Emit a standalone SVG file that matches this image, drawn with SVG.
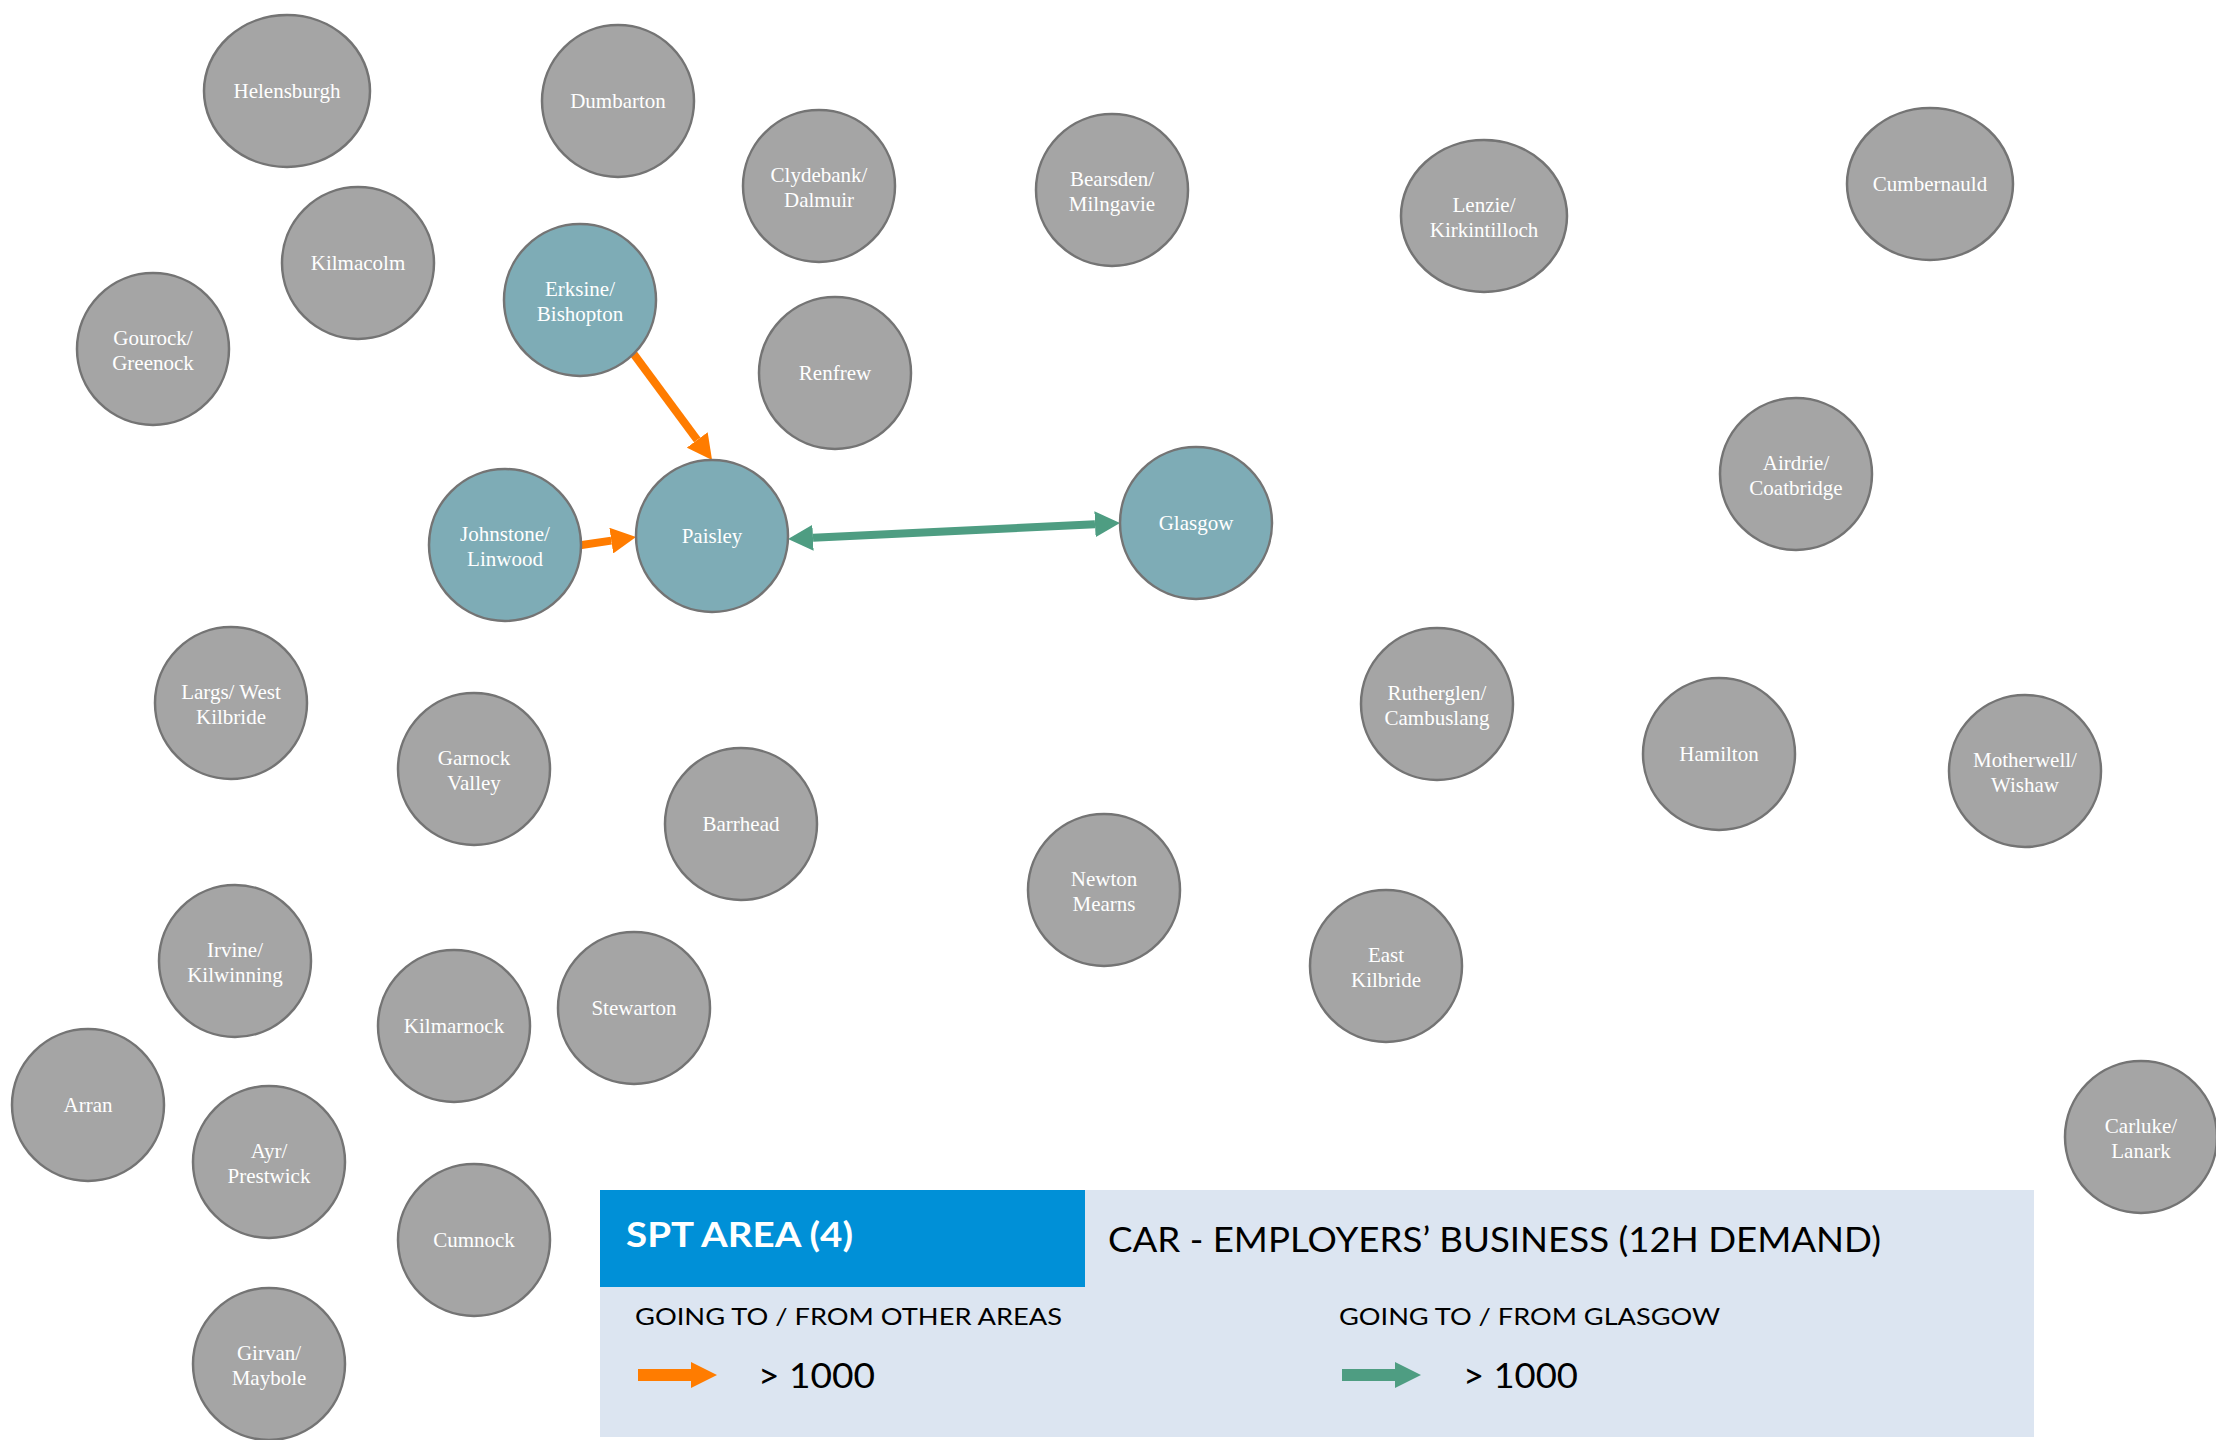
<svg xmlns="http://www.w3.org/2000/svg" width="2216" height="1440" viewBox="0 0 2216 1440">
<style>
.n ellipse{fill:#a5a5a5;stroke:#747474;stroke-width:2.5}
.t ellipse{fill:#7eacb6;stroke:#747474;stroke-width:2.5}
.n text,.t text{font-family:"Liberation Serif","Times New Roman",serif;font-size:21px;fill:#ffffff;text-anchor:middle}
.or{stroke:#ff7c00;stroke-width:8;fill:none}
.gr{stroke:#4e9d82;stroke-width:8;fill:none}
.lg{font-family:Lato,"Open Sans",sans-serif;fill:#000}
</style>
<defs>
<marker id="ho" markerUnits="userSpaceOnUse" markerWidth="26" markerHeight="26" refX="0" refY="13" orient="auto"><path d="M0,0 L25,13 L0,26 z" fill="#ff7c00"/></marker>
<marker id="hg" markerUnits="userSpaceOnUse" markerWidth="26" markerHeight="26" refX="0" refY="13" orient="auto-start-reverse"><path d="M0,0 L25,13 L0,26 z" fill="#4e9d82"/></marker>
</defs>
<rect width="2216" height="1440" fill="#ffffff"/>
<g id="connectors">
<line class="or" x1="630" y1="349" x2="697.2" y2="439.9" marker-end="url(#ho)"/>
<line class="or" x1="575" y1="546" x2="611.3" y2="540.6" marker-end="url(#ho)"/>
<line class="gr" x1="813" y1="537.8" x2="1095" y2="524.2" marker-start="url(#hg)" marker-end="url(#hg)"/>
</g>
<g id="helensburgh" class="n"><ellipse cx="287" cy="91" rx="83" ry="76"/><text x="287" y="98">Helensburgh</text></g>
<g id="dumbarton" class="n"><ellipse cx="618" cy="101" rx="76" ry="76"/><text x="618" y="108">Dumbarton</text></g>
<g id="clydebank" class="n"><ellipse cx="819" cy="186" rx="76" ry="76"/><text x="819" y="182">Clydebank/</text><text x="819" y="207">Dalmuir</text></g>
<g id="bearsden" class="n"><ellipse cx="1112" cy="190" rx="76" ry="76"/><text x="1112" y="186">Bearsden/</text><text x="1112" y="211">Milngavie</text></g>
<g id="lenzie" class="n"><ellipse cx="1484" cy="216" rx="83" ry="76"/><text x="1484" y="212">Lenzie/</text><text x="1484" y="237">Kirkintilloch</text></g>
<g id="cumbernauld" class="n"><ellipse cx="1930" cy="184" rx="83" ry="76"/><text x="1930" y="191">Cumbernauld</text></g>
<g id="kilmacolm" class="n"><ellipse cx="358" cy="263" rx="76" ry="76"/><text x="358" y="270">Kilmacolm</text></g>
<g id="erksine" class="t"><ellipse cx="580" cy="300" rx="76" ry="76"/><text x="580" y="296">Erksine/</text><text x="580" y="321">Bishopton</text></g>
<g id="gourock" class="n"><ellipse cx="153" cy="349" rx="76" ry="76"/><text x="153" y="345">Gourock/</text><text x="153" y="370">Greenock</text></g>
<g id="renfrew" class="n"><ellipse cx="835" cy="373" rx="76" ry="76"/><text x="835" y="380">Renfrew</text></g>
<g id="airdrie" class="n"><ellipse cx="1796" cy="474" rx="76" ry="76"/><text x="1796" y="470">Airdrie/</text><text x="1796" y="495">Coatbridge</text></g>
<g id="johnstone" class="t"><ellipse cx="505" cy="545" rx="76" ry="76"/><text x="505" y="541">Johnstone/</text><text x="505" y="566">Linwood</text></g>
<g id="paisley" class="t"><ellipse cx="712" cy="536" rx="76" ry="76"/><text x="712" y="543">Paisley</text></g>
<g id="glasgow" class="t"><ellipse cx="1196" cy="523" rx="76" ry="76"/><text x="1196" y="530">Glasgow</text></g>
<g id="largs" class="n"><ellipse cx="231" cy="703" rx="76" ry="76"/><text x="231" y="699">Largs/ West</text><text x="231" y="724">Kilbride</text></g>
<g id="garnock" class="n"><ellipse cx="474" cy="769" rx="76" ry="76"/><text x="474" y="765">Garnock</text><text x="474" y="790">Valley</text></g>
<g id="barrhead" class="n"><ellipse cx="741" cy="824" rx="76" ry="76"/><text x="741" y="831">Barrhead</text></g>
<g id="rutherglen" class="n"><ellipse cx="1437" cy="704" rx="76" ry="76"/><text x="1437" y="700">Rutherglen/</text><text x="1437" y="725">Cambuslang</text></g>
<g id="hamilton" class="n"><ellipse cx="1719" cy="754" rx="76" ry="76"/><text x="1719" y="761">Hamilton</text></g>
<g id="motherwell" class="n"><ellipse cx="2025" cy="771" rx="76" ry="76"/><text x="2025" y="767">Motherwell/</text><text x="2025" y="792">Wishaw</text></g>
<g id="newton-mearns" class="n"><ellipse cx="1104" cy="890" rx="76" ry="76"/><text x="1104" y="886">Newton</text><text x="1104" y="911">Mearns</text></g>
<g id="east-kilbride" class="n"><ellipse cx="1386" cy="966" rx="76" ry="76"/><text x="1386" y="962">East</text><text x="1386" y="987">Kilbride</text></g>
<g id="irvine" class="n"><ellipse cx="235" cy="961" rx="76" ry="76"/><text x="235" y="957">Irvine/</text><text x="235" y="982">Kilwinning</text></g>
<g id="kilmarnock" class="n"><ellipse cx="454" cy="1026" rx="76" ry="76"/><text x="454" y="1033">Kilmarnock</text></g>
<g id="stewarton" class="n"><ellipse cx="634" cy="1008" rx="76" ry="76"/><text x="634" y="1015">Stewarton</text></g>
<g id="arran" class="n"><ellipse cx="88" cy="1105" rx="76" ry="76"/><text x="88" y="1112">Arran</text></g>
<g id="ayr" class="n"><ellipse cx="269" cy="1162" rx="76" ry="76"/><text x="269" y="1158">Ayr/</text><text x="269" y="1183">Prestwick</text></g>
<g id="cumnock" class="n"><ellipse cx="474" cy="1240" rx="76" ry="76"/><text x="474" y="1247">Cumnock</text></g>
<g id="girvan" class="n"><ellipse cx="269" cy="1364" rx="76" ry="76"/><text x="269" y="1360">Girvan/</text><text x="269" y="1385">Maybole</text></g>
<g id="carluke" class="n"><ellipse cx="2141" cy="1137" rx="76" ry="76"/><text x="2141" y="1133">Carluke/</text><text x="2141" y="1158">Lanark</text></g>
<g id="legend">
<rect x="600" y="1190" width="1434" height="247" fill="#dce5f1"/>
<rect x="600" y="1190" width="485" height="97" fill="#0090d7"/>
<text class="lg" x="626" y="1247" font-size="35" font-weight="bold" fill="#ffffff" style="fill:#ffffff" textLength="227" lengthAdjust="spacingAndGlyphs">SPT AREA (4)</text>
<text class="lg" x="1108" y="1252" font-size="35" textLength="773" lengthAdjust="spacingAndGlyphs">CAR - EMPLOYERS’ BUSINESS (12H DEMAND)</text>
<text class="lg" x="635" y="1325" font-size="24" textLength="427" lengthAdjust="spacingAndGlyphs">GOING TO / FROM OTHER AREAS</text>
<text class="lg" x="1339" y="1325" font-size="24" textLength="381" lengthAdjust="spacingAndGlyphs">GOING TO / FROM GLASGOW</text>
<path d="M638,1369 L691,1369 L691,1362 L717,1375 L691,1388 L691,1381 L638,1381 z" fill="#ff7c00"/>
<text class="lg" x="758" y="1388" font-size="35" textLength="117" lengthAdjust="spacingAndGlyphs">&gt; 1000</text>
<path d="M1342,1369 L1395,1369 L1395,1362 L1421,1375 L1395,1388 L1395,1381 L1342,1381 z" fill="#4e9d82"/>
<text class="lg" x="1463" y="1388" font-size="35" textLength="115" lengthAdjust="spacingAndGlyphs">&gt; 1000</text>
</g>
</svg>
